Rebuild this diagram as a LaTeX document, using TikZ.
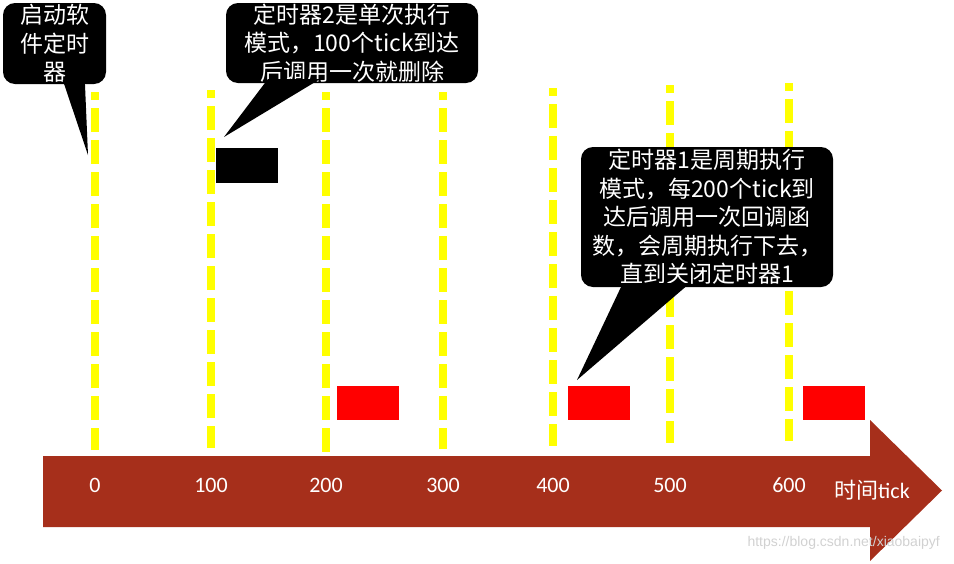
\documentclass[tikz,border=0pt]{standalone}
\usepackage{fontspec}
\setmainfont{Noto Sans CJK SC}
\newfontfamily\latfont{Carlito}
\newfontfamily\wmfont{Liberation Sans}
\usepackage{tikz}
\usetikzlibrary{positioning,calc}
\usepackage{xcolor}
\definecolor{arrowred}{RGB}{166,47,27}
\definecolor{tickyellow}{RGB}{255,255,0}
\definecolor{runred}{RGB}{255,0,0}

\begin{document}
\begin{tikzpicture}[
    x=1pt, y=-1pt,
    bubble/.style={fill=black, rounded corners=12pt, text=white, align=center, inner sep=0pt,
                   font=\fontsize{23}{28.5}\selectfont},
    tickline/.style={tickyellow, line width=7.5pt, dash pattern=on 24pt off 8pt, dash phase=16pt},
    ticklbl/.style={text=white, font=\latfont\fontsize{22}{24}\selectfont, inner sep=0pt},
    runbox/.style={fill=runred}
]
\useasboundingbox (0,0) rectangle (954,563);

%, time axis arrow ---
\fill[arrowred] (43,456) -- (870,456) -- (870,420) -- (942,490.5) -- (870,561) -- (870,527) -- (43,527) -- cycle;

%, dashed tick lines and labels ---
\foreach \x/\lab/\top/\bot in {95/0/92/450, 211/100/90/448, 326/200/92/452, 443/300/92/449,
                               553/400/88/446, 670/500/85/443, 789/600/83/441} {
    \draw[tickline] (\x,\top) -- (\x,\bot);
    \node[ticklbl] (t\lab) at (\x,485) {\lab};
}
\node[text=white, inner sep=0pt, font=\fontsize{22}{24}\selectfont] (timelbl) at (872,490) {时间{\latfont tick}};

% timer 2 (one shot) and timer 1 (periodic)
\fill (216,148) rectangle (278,183);
\foreach \x in {337,568,803} {
    \fill[runbox] (\x,386) rectangle (\x+62,420);
}

%, callouts ---
\node[bubble, minimum width=103pt, minimum height=81pt] (c1) at (54.5,43.5) {启动软\\件定时\\器};
\coordinate (tip1) at (88,155);
\fill ([xshift=60pt,yshift=4pt]c1.south west) -- ([xshift=82pt,yshift=4pt]c1.south west) -- (tip1) -- cycle;

\node[bubble, minimum width=252pt, minimum height=80pt] (c2) at (352,43)
    {定时器2是单次执行\\模式，100个tick到达\\后调用一次就删除};
\coordinate (tip2) at (224,137);
\fill ([xshift=42pt,yshift=4pt]c2.south west) -- ([xshift=94pt,yshift=4pt]c2.south west) -- (tip2) -- cycle;

\node[bubble, minimum width=252pt, minimum height=140pt] (c3) at (707,217)
    {定时器1是周期执行\\模式，每200个tick到\\达后调用一次回调函\\数，会周期执行下去，\\直到关闭定时器1};
\coordinate (tip3) at (577,380);
\fill ([xshift=42pt,yshift=4pt]c3.south west) -- ([xshift=109pt,yshift=4pt]c3.south west) -- (tip3) -- cycle;

% watermark
\node[anchor=east, text=black!18, inner sep=0pt, font=\wmfont\fontsize{14}{16}\selectfont] (wm) at (940,543)
    {https://blog.csdn.net/xiaobaipyf};
\end{tikzpicture}
\end{document}
